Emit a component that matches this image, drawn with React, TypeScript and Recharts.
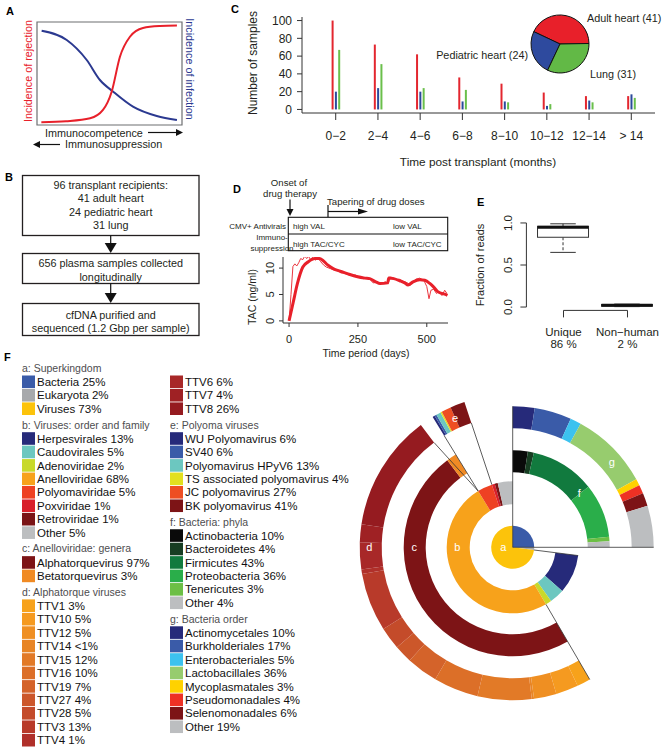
import React from 'react';
import {
  BarChart, Bar, XAxis, YAxis, PieChart, Pie, Cell, LineChart, Line,
  ComposedChart, ReferenceLine, ReferenceArea,
} from 'recharts';

const FONT = '"Liberation Sans", Arial, Helvetica, sans-serif';
const INK = '#231f20';
const AXIS = '#333333';

// ---------------- Panel A: schematic curves
const rejectionCurve = [
  { t: 3, v: 2.6 }, { t: 20, v: 3.6 }, { t: 36.6, v: 6.5 }, { t: 45.5, v: 14.6 }, { t: 51.5, v: 32.3 },
  { t: 57.2, v: 66.3 }, { t: 64.1, v: 85.7 }, { t: 73.1, v: 94.2 }, { t: 84.8, v: 96.1 }, { t: 96.5, v: 96.6 },
];
const infectionCurve = [
  { t: 3.2, v: 91.6 }, { t: 20.5, v: 82.5 }, { t: 34.3, v: 63.1 }, { t: 43.4, v: 43.7 }, { t: 52.6, v: 32.3 },
  { t: 66.2, v: 17.8 }, { t: 82.6, v: 8.7 }, { t: 96.5, v: 4.9 },
];

// ---------------- Panel B: flow chart text
const recipientLines = ['96 transplant recipients:', '41 adult heart', '24 pediatric heart', '31 lung'];
const sampleLines = ['656 plasma samples collected', 'longitudinally'];
const sequencingLines = ['cfDNA purified and', 'sequenced (1.2 Gbp per sample)'];

// ---------------- Panel C
const timeBins = ['0−2', '2−4', '4−6', '6−8', '8−10', '10−12', '12−14', '> 14'];
const adultHeartSamples = [100, 73, 62, 36, 29, 19, 15, 15];
const pediatricHeartSamples = [20, 24, 20, 9, 9, 4, 10, 17];
const lungSamples = [67, 51, 24, 22, 8, 6, 8, 13];
const sampleTicks = [0, 20, 40, 60, 80, 100];
const cohortNames = ['Adult heart', 'Pediatric heart', 'Lung'];
const cohortSizes = [41, 24, 31];

// ---------------- Panel D
const tacRawDays = [0, 7, 14, 21, 28, 35, 42, 50, 57, 64, 71, 78, 85, 95, 105, 115, 125, 135, 150, 165, 180, 195, 210, 225, 240, 255, 270, 285, 295, 305, 320, 335, 350, 360, 365, 375, 390, 400, 415, 430, 440, 450, 460, 475, 490, 500, 508, 515, 525, 535, 545, 555, 565, 573];
const tacRawValues = [0, 5, 10.3, 10.8, 10.4, 11.0, 11.8, 11.6, 12.3, 11.8, 12.2, 11.6, 12.0, 11.5, 11.9, 11.2, 10.6, 10.2, 9.9, 9.6, 9.6, 9.2, 8.8, 8.6, 8.7, 8.3, 8.0, 8.1, 7.8, 7.2, 7.3, 7.1, 7.4, 7.0, 8.3, 8.2, 7.8, 7.9, 7.5, 7.2, 6.8, 7.3, 7.9, 8.1, 7.6, 6.5, 4.2, 5.8, 6.0, 5.2, 5.6, 4.8, 5.8, 5.2];
const tacSmoothDays = [0, 15, 30, 50, 70, 94, 110, 124, 140, 160, 185, 209, 245, 275, 293, 315, 330, 358, 362, 380, 402, 420, 432, 450, 475, 493, 511, 525, 541, 555, 568, 575];
const tacSmoothValues = [0, 3.5, 7, 10.2, 11.2, 11.8, 11.8, 11.4, 10.6, 9.9, 9.4, 9.0, 8.4, 8.1, 8.0, 7.4, 7.1, 7.2, 8.1, 8.0, 7.6, 7.2, 6.8, 7.4, 7.8, 7.7, 7.1, 6.4, 5.5, 5.2, 5.0, 4.8];
const dayTicks = [0, 250, 500];
const tacTicks = [0, 5, 10];

// ---------------- Panel E
const readCategories = ['Unique', 'Non−human'];
const readPercents = ['86 %', '2 %'];
const readLow = [0.65, 0.005];
const readQ1 = [0.83, 0.01];
const readMedian = [0.95, 0.02];
const readQ3 = [0.96, 0.03];
const readHigh = [0.99, 0.035];
const fractionTicks = [0, 0.5, 1];

// ---------------- Panel F
const superkingdomNames = ['Bacteria', 'Eukaryota', 'Viruses'];
const superkingdomShares = [25, 2, 73];
const virusFamilyNames = ['Herpesvirales', 'Caudovirales', 'Adenoviridae', 'Anelloviridae', 'Polyomaviridae', 'Poxviridae', 'Retroviridae', 'Other'];
const virusFamilyShares = [13, 5, 2, 68, 5, 1, 1, 5];
const anelloGenusNames = ['Alphatorquevirus', 'Betatorquevirus'];
const anelloGenusShares = [97, 3];
const ttvNames = ['TTV1', 'TTV10', 'TTV12', 'TTV14', 'TTV15', 'TTV16', 'TTV19', 'TTV27', 'TTV28', 'TTV3', 'TTV4', 'TTV6', 'TTV7', 'TTV8'];
const ttvShares = [3, 5, 5, 0.5, 12, 10, 7, 4, 5, 13, 1, 6, 4, 26];
const polyomaNames = ['WU Polyomavirus', 'SV40', 'Polyomavirus HPyV6', 'TS associated polyomavirus', 'JC polyomavirus', 'BK polyomavirus'];
const polyomaShares = [6, 6, 13, 4, 27, 41];
const phylumNames = ['Actinobacteria', 'Bacteroidetes', 'Firmicutes', 'Proteobacteria', 'Tenericutes', 'Other'];
const phylumShares = [10, 4, 43, 36, 3, 4];
const orderNames = ['Actinomycetales', 'Burkholderiales', 'Enterobacteriales', 'Lactobacillales', 'Mycoplasmatales', 'Pseudomonadales', 'Selenomonadales', 'Other'];
const orderShares = [10, 17, 5, 36, 3, 4, 6, 19];

// ---------------- styles (colours)
const RED = '#e8202a';
const NAVY = '#2b3990';
const cohortColors = ['#e8202a', '#2e4a9e', '#62b946'];
const barColors = ['#e3262f', '#2b4a9b', '#6abf4b'];
const superkingdomColors = ['#3a5ba8', '#a7a9ac', '#fcc30b'];
const virusFamilyColors = ['#262a7a', '#6cc7c0', '#c8d92b', '#f7a21b', '#ee4123', '#d81f2a', '#7a1416', '#bcbec0'];
const anelloGenusColors = ['#7d1416', '#f08a24'];
const ttvColors = ['#f7a21b', '#f59a20', '#ef8f22', '#e88525', '#e27a27', '#dc6f28', '#d4632a', '#cc572a', '#c44b2a', '#b83a2a', '#b0302a', '#a82828', '#9f2124', '#951b20'];
const polyomaColors = ['#262a7a', '#3a5ba8', '#6cc7c0', '#e2e01f', '#ee4e23', '#7d1416'];
const phylumColors = ['#0a0a0a', '#173d22', '#117a3e', '#2aae4a', '#6cbf45', '#bcbec0'];
const orderColors = ['#262a7a', '#3a5ba8', '#3cc2ef', '#97cc6e', '#ffd200', '#ee3124', '#7d1416', '#bcbec0'];

const fmtShare = (v: number) => (v < 1 ? '<1%' : `${v}%`);

// sunburst geometry
const SB_LEFT = 350;
const SB_TOP = 390;
const SB_CX = 162.7;
const SB_CY = 157.3;

function childSpan(shares: number[], idx: number, c1: number, c2: number): [number, number] {
  const total = shares.reduce((s, v) => s + v, 0);
  const before = shares.slice(0, idx).reduce((s, v) => s + v, 0);
  return [c1 + ((c2 - c1) * before) / total, c1 + ((c2 - c1) * (before + shares[idx])) / total];
}

const bacteriaSpan = childSpan(superkingdomShares, 0, 0, 360);
const virusSpan = childSpan(superkingdomShares, 2, 0, 360);
const anelloSpan = childSpan(virusFamilyShares, 3, virusSpan[0], virusSpan[1]);
const polyomaSpan = childSpan(virusFamilyShares, 4, virusSpan[0], virusSpan[1]);
const alphaSpan = childSpan(anelloGenusShares, 0, anelloSpan[0], anelloSpan[1]);

function polar(r: number, clock: number) {
  const a = (clock * Math.PI) / 180;
  return { x: SB_LEFT + SB_CX + r * Math.sin(a), y: SB_TOP + SB_CY - r * Math.cos(a) };
}

type RingProps = {
  names: string[]; shares: number[]; colors: string[]; span: [number, number]; inner: number; outer: number; id: string;
};
function ring({ names, shares, colors, span, inner, outer, id }: RingProps) {
  const data = names.map((name, i) => ({ name, value: shares[i] }));
  return (
    <Pie
      key={id}
      data={data}
      dataKey="value"
      cx={SB_CX}
      cy={SB_CY}
      innerRadius={inner}
      outerRadius={outer}
      startAngle={90 - span[0]}
      endAngle={90 - span[1]}
      stroke="none"
      isAnimationActive={false}
    >
      {data.map((d, i) => (
        <Cell key={d.name} fill={colors[i]} stroke="none" />
      ))}
    </Pie>
  );
}

const RotatedTick = (props: any) => {
  const { x, y, payload, fmt, size } = props;
  return (
    <text x={x} y={y} transform={`rotate(-90 ${x} ${y})`} textAnchor="middle" fontSize={size} fill={INK}>
      {fmt ? fmt(payload.value) : payload.value}
    </text>
  );
};

const ReadTick = (props: any) => {
  const { x, y, payload } = props;
  const idx = Math.round(payload.value) - 1;
  return (
    <text x={x} textAnchor="middle" fontSize={11.5} fill={INK}>
      <tspan x={x} y={y + 18.6}>{readCategories[idx]}</tspan>
      <tspan x={x} y={y + 30.6}>{readPercents[idx]}</tspan>
    </text>
  );
};

const BoxShape = (props: any) => {
  const { x, y, width, height, payload } = props;
  const { low, q1, median, q3, high } = payload;
  const py = (v: number) => y + (height * (high - v)) / (high - low);
  const cx = x + width / 2;
  const cap = width * 0.5;
  return (
    <g>
      <line x1={cx} x2={cx} y1={py(high)} y2={py(q3)} stroke="#333" strokeDasharray="3 2" />
      <line x1={cx} x2={cx} y1={py(q1)} y2={py(low)} stroke="#333" strokeDasharray="3 2" />
      <line x1={cx - cap / 2} x2={cx + cap / 2} y1={py(high)} y2={py(high)} stroke="#333" />
      <line x1={cx - cap / 2} x2={cx + cap / 2} y1={py(low)} y2={py(low)} stroke="#333" />
      <rect x={x} y={py(q3)} width={width} height={Math.max(py(q1) - py(q3), 0.5)} fill="#fff" stroke="#333" />
      <line x1={x} x2={x + width} y1={py(median)} y2={py(median)} stroke="#111" strokeWidth={3} />
    </g>
  );
};

type Section = { title?: string; names: string[]; shares: number[]; colors: string[] };

function renderLegend(sections: Section[], sx: number, startY: number, key: string) {
  const out: React.ReactNode[] = [];
  let cy = startY;
  let prevItem = false;
  sections.forEach((sec, si) => {
    if (sec.title) {
      if (prevItem) cy += 2.55;
      out.push(
        <text key={`${key}h${si}`} x={sx} y={cy + 3.8} fontSize={10.5} fill="#4d4d4f">{sec.title}</text>,
      );
      cy += 13.8;
    }
    sec.names.forEach((n, i) => {
      out.push(
        <g key={`${key}${si}-${i}`}>
          <rect x={sx} y={cy - 6.3} width={13} height={12.6} fill={sec.colors[i]} />
          <text x={sx + 15} y={cy + 4.1} fontSize={11.5} fill="#111">{`${n} ${fmtShare(sec.shares[i])}`}</text>
        </g>,
      );
      cy += 13.45;
    });
    prevItem = true;
  });
  return out;
}

const Arrow = ({ x1, y1, x2, y2, head = 7, hw = 3.5 }: any) => {
  const dx = x2 - x1;
  const dy = y2 - y1;
  const len = Math.hypot(dx, dy);
  const ux = dx / len;
  const uy = dy / len;
  const bx = x2 - ux * head;
  const by = y2 - uy * head;
  return (
    <g>
      <line x1={x1} y1={y1} x2={bx + ux} y2={by + uy} stroke="#111" strokeWidth={1.2} />
      <polygon points={`${x2},${y2} ${bx - uy * hw},${by + ux * hw} ${bx + uy * hw},${by - ux * hw}`} fill="#111" />
    </g>
  );
};

export default function App() {
  const barRows = timeBins.map((bin, i) => ({
    bin, adult: adultHeartSamples[i], pediatric: pediatricHeartSamples[i], lung: lungSamples[i],
  }));
  const cohortRows = cohortNames.map((name, i) => ({ name, value: cohortSizes[i] }));

  // merge the raw and smoothed TAC series on a common day axis
  const allDays = Array.from(new Set([...tacRawDays, ...tacSmoothDays])).sort((a, b) => a - b);
  const tacRows = allDays.map((day) => {
    const ri = tacRawDays.indexOf(day);
    const si = tacSmoothDays.indexOf(day);
    return {
      day,
      raw: ri >= 0 ? tacRawValues[ri] : null,
      smooth: si >= 0 ? tacSmoothValues[si] : null,
    };
  });

  const readRows = readCategories.map((name, i) => ({
    pos: i + 1, name, range: [readLow[i], readHigh[i]],
    low: readLow[i], q1: readQ1[i], median: readMedian[i], q3: readQ3[i], high: readHigh[i],
  }));

  const col1: Section[] = [
    { title: 'a: Superkingdom', names: superkingdomNames, shares: superkingdomShares, colors: superkingdomColors },
    { title: 'b: Viruses: order and family', names: virusFamilyNames, shares: virusFamilyShares, colors: virusFamilyColors },
    { title: 'c: Anelloviridae: genera', names: anelloGenusNames, shares: anelloGenusShares, colors: anelloGenusColors },
    { title: 'd: Alphatorque viruses', names: ttvNames.slice(0, 11), shares: ttvShares.slice(0, 11), colors: ttvColors.slice(0, 11) },
  ];
  const col2: Section[] = [
    { names: ttvNames.slice(11), shares: ttvShares.slice(11), colors: ttvColors.slice(11) },
    { title: 'e: Polyoma viruses', names: polyomaNames, shares: polyomaShares, colors: polyomaColors },
    { title: 'f:  Bacteria: phyla', names: phylumNames, shares: phylumShares, colors: phylumColors },
    { title: 'g:  Bacteria order', names: orderNames, shares: orderShares, colors: orderColors },
  ];

  const sbLines: Array<[{ x: number; y: number }, { x: number; y: number }]> = [
    [polar(0, bacteriaSpan[0]), polar(141, bacteriaSpan[0])],
    [polar(0, bacteriaSpan[1]), polar(141, bacteriaSpan[1])],
    [polar(21.5, virusSpan[0]), polar(66, virusSpan[0])],
    [polar(66, anelloSpan[0]), polar(153, anelloSpan[0])],
    [polar(66, anelloSpan[1]), polar(131, alphaSpan[1])],
    [polar(66, polyomaSpan[0]), polar(131, polyomaSpan[0])],
    [polar(66, polyomaSpan[1]), polar(131, polyomaSpan[1])],
  ];

  return (
    <div style={{ position: 'absolute', left: 0, top: 0, width: 666, height: 750, background: '#fff', fontFamily: FONT, overflow: 'hidden' }}>
      {/* Panel A */}
      <div style={{ position: 'absolute', left: 36, top: 21 }}>
        <LineChart width={147} height={105} margin={{ top: 1, right: 1, bottom: 1, left: 1 }}>
          <XAxis type="number" dataKey="t" domain={[0, 100]} hide allowDataOverflow />
          <YAxis type="number" domain={[0, 100]} hide allowDataOverflow />
          <ReferenceArea x1={0} x2={100} y1={0} y2={100} fill="none" stroke="#6d6e71" strokeWidth={1.2} ifOverflow="visible" />
          <Line data={infectionCurve} dataKey="v" type="monotone" stroke={NAVY} strokeWidth={2} dot={false} isAnimationActive={false} />
          <Line data={rejectionCurve} dataKey="v" type="monotone" stroke={RED} strokeWidth={2} dot={false} isAnimationActive={false} />
        </LineChart>
      </div>

      {/* Panel C bars */}
      <div style={{ position: 'absolute', left: 230, top: 0 }}>
        <BarChart width={436} height={175} data={barRows} margin={{ top: 17, right: 11, bottom: 32, left: 0 }} barSize={2} barGap={1.3}>
          <XAxis dataKey="bin" interval={0} padding={{ left: 12.6, right: 2.6 }} height={30} tickSize={7} tickMargin={11} stroke={AXIS} tick={{ fill: INK, fontSize: 12 }} />
          <YAxis type="number" domain={[-4, 104]} ticks={sampleTicks} interval={0} width={72} tickSize={5} tickMargin={5} stroke={AXIS} tick={{ fill: INK, fontSize: 12 }} allowDataOverflow />
          <Bar dataKey="adult" fill={barColors[0]} isAnimationActive={false} />
          <Bar dataKey="pediatric" fill={barColors[1]} isAnimationActive={false} />
          <Bar dataKey="lung" fill={barColors[2]} isAnimationActive={false} />
        </BarChart>
      </div>

      {/* Panel C pie */}
      <div style={{ position: 'absolute', left: 500, top: 0 }}>
        <PieChart width={120} height={90} margin={{ top: 0, right: 0, bottom: 0, left: 0 }}>
          <Pie data={cohortRows} dataKey="value" cx={60} cy={44} innerRadius={0} outerRadius={29} startAngle={1} endAngle={361} stroke="#111" strokeWidth={1} isAnimationActive={false}>
            {cohortRows.map((d, i) => (
              <Cell key={d.name} fill={cohortColors[i]} />
            ))}
          </Pie>
        </PieChart>
      </div>

      {/* Panel D */}
      <div style={{ position: 'absolute', left: 230, top: 250 }}>
        <ComposedChart width={230} height={115} data={tacRows} margin={{ top: 7, right: 12, bottom: 17, left: 28 }}>
          <XAxis type="number" dataKey="day" domain={[-22, 577]} ticks={dayTicks} allowDataOverflow height={25} tickSize={4} tickMargin={8} stroke={AXIS} tick={{ fill: INK, fontSize: 11 }} />
          <YAxis type="number" domain={[-0.4, 12.1]} ticks={tacTicks} interval={0} allowDataOverflow width={25} tickSize={4} tickMargin={5} stroke={AXIS} tick={<RotatedTick size={11} />} />
          <Line dataKey="raw" type="linear" connectNulls stroke={RED} strokeWidth={0.9} dot={false} isAnimationActive={false} />
          <Line dataKey="smooth" type="monotone" connectNulls stroke={RED} strokeWidth={3} dot={false} isAnimationActive={false} />
        </ComposedChart>
      </div>

      {/* Panel E */}
      <div style={{ position: 'absolute', left: 470, top: 200 }}>
        <ComposedChart width={196} height={160} data={readRows} margin={{ top: 19.6, right: 1.4, bottom: 4.6, left: 0 }}>
          <XAxis type="number" dataKey="pos" domain={[0.42, 2.58]} ticks={[1, 2]} allowDataOverflow height={45} axisLine={false} tickSize={7} tickMargin={0} stroke={AXIS} tick={<ReadTick />} />
          <YAxis type="number" domain={[-0.04, 1.04]} ticks={fractionTicks} interval={0} allowDataOverflow width={56.4} axisLine={false} tickSize={6} tickMargin={8} stroke={AXIS} tick={<RotatedTick size={11.5} fmt={(v: number) => v.toFixed(1)} />} />
          <ReferenceLine segment={[{ x: 0.42, y: 0 }, { x: 0.42, y: 1 }]} stroke={AXIS} ifOverflow="visible" />
          <ReferenceLine segment={[{ x: 1, y: -0.04 }, { x: 2, y: -0.04 }]} stroke={AXIS} ifOverflow="visible" />
          <Bar dataKey="range" barSize={51} fill="none" shape={<BoxShape />} isAnimationActive={false} />
        </ComposedChart>
      </div>

      {/* Panel F sunburst */}
      <div style={{ position: 'absolute', left: SB_LEFT, top: SB_TOP }}>
        <PieChart width={316} height={320} margin={{ top: 0, right: 0, bottom: 0, left: 0 }}>
          {ring({ names: superkingdomNames, shares: superkingdomShares, colors: superkingdomColors, span: [0, 360], inner: 0, outer: 21.5, id: 'a' })}
          {ring({ names: virusFamilyNames, shares: virusFamilyShares, colors: virusFamilyColors, span: virusSpan, inner: 43, outer: 66, id: 'b' })}
          {ring({ names: anelloGenusNames, shares: anelloGenusShares, colors: anelloGenusColors, span: anelloSpan, inner: 87, outer: 109, id: 'c' })}
          {ring({ names: ttvNames, shares: ttvShares, colors: ttvColors, span: alphaSpan, inner: 131, outer: 153, id: 'd' })}
          {ring({ names: polyomaNames, shares: polyomaShares, colors: polyomaColors, span: polyomaSpan, inner: 131, outer: 153, id: 'e' })}
          {ring({ names: phylumNames, shares: phylumShares, colors: phylumColors, span: bacteriaSpan, inner: 75, outer: 97, id: 'f' })}
          {ring({ names: orderNames, shares: orderShares, colors: orderColors, span: bacteriaSpan, inner: 119, outer: 141, id: 'g' })}
        </PieChart>
      </div>

      {/* Annotation overlay */}
      <svg width={666} height={750} style={{ position: 'absolute', left: 0, top: 0, pointerEvents: 'none' }} fontFamily={FONT}>
        <g fontWeight="bold" fontSize={11} fill="#000">
          <text x={6} y={14.5}>A</text>
          <text x={5} y={181}>B</text>
          <text x={231} y={12.5}>C</text>
          <text x={233} y={192.5}>D</text>
          <text x={477} y={205.5}>E</text>
          <text x={4} y={360.5}>F</text>
        </g>

        {/* A labels */}
        <text x={32} y={71} transform="rotate(-90 32 71)" textAnchor="middle" fontSize={10.8} fill={RED}>Incidence of rejection</text>
        <text x={186} y={69} transform="rotate(90 186 69)" textAnchor="middle" fontSize={10.8} fill={NAVY}>Incidence of infection</text>
        <text x={45} y={136.5} fontSize={10.8} fill={INK}>Immunocompetence</text>
        <Arrow x1={148} y1={132.5} x2={183} y2={132.5} />
        <text x={65} y={148} fontSize={10.8} fill={INK}>Immunosuppression</text>
        <Arrow x1={60} y1={144.5} x2={33} y2={144.5} />

        {/* B flow chart */}
        <g fill="none" stroke={INK} strokeWidth={1.3}>
          <rect x={22.5} y={175.5} width={176.5} height={60} />
          <rect x={22.5} y={253.5} width={176.5} height={30} />
          <rect x={22.5} y={303.5} width={176.5} height={32} />
        </g>
        <Arrow x1={110.7} y1={235.5} x2={110.7} y2={253} head={10} hw={6} />
        <Arrow x1={110.7} y1={283.5} x2={110.7} y2={303} head={10} hw={6} />
        <g fontSize={10.8} fill={INK} textAnchor="middle">
          {recipientLines.map((l, i) => (
            <text key={l} x={110.7} y={189 + i * 13.4}>{l}</text>
          ))}
          {sampleLines.map((l, i) => (
            <text key={l} x={110.7} y={266.7 + i * 14}>{l}</text>
          ))}
          {sequencingLines.map((l, i) => (
            <text key={l} x={110.7} y={319 + i * 13.3}>{l}</text>
          ))}
        </g>

        {/* C titles and pie labels */}
        <text x={257} y={63} transform="rotate(-90 257 63)" textAnchor="middle" fontSize={12} fill={INK}>Number of samples</text>
        <text x={478} y={166} textAnchor="middle" fontSize={11.8} fill={INK}>Time post transplant (months)</text>
        <g fontSize={10.8} fill={INK}>
          <text x={587} y={22}>{`${cohortNames[0]} (${cohortSizes[0]})`}</text>
          <text x={528} y={59} textAnchor="end">{`${cohortNames[1]} (${cohortSizes[1]})`}</text>
          <text x={590} y={78}>{`${cohortNames[2]} (${cohortSizes[2]})`}</text>
        </g>

        {/* D annotations */}
        <g fontSize={9.6} fill={INK}>
          <text x={289} y={186} textAnchor="middle">Onset of</text>
          <text x={290} y={196.5} textAnchor="middle">drug therapy</text>
          <text x={327} y={205}>Tapering of drug doses</text>
        </g>
        <Arrow x1={290} y1={199.5} x2={290} y2={216} head={7} hw={3.5} />
        <line x1={328} y1={205} x2={328} y2={217} stroke="#111" strokeWidth={1.2} />
        <Arrow x1={328} y1={211.5} x2={368} y2={211.5} head={10} hw={3} />
        <g fill="none" stroke="#111" strokeWidth={1.1}>
          <rect x={288.3} y={217.3} width={159.4} height={33.4} />
          <line x1={288.3} x2={447.7} y1={234} y2={234} />
        </g>
        <g fontSize={8} fill={INK}>
          <text x={286} y={228.5} textAnchor="end">CMV+ Antivirals</text>
          <text x={272} y={240} textAnchor="middle">Immuno-</text>
          <text x={272} y={251} textAnchor="middle">suppression</text>
          <text x={293} y={228.5}>high VAL</text>
          <text x={393} y={228.5}>low VAL</text>
          <text x={293} y={246.5}>high TAC/CYC</text>
          <text x={393} y={246.5}>low TAC/CYC</text>
        </g>
        <text x={256} y={297} transform="rotate(-90 256 297)" textAnchor="middle" fontSize={10.5} fill={INK}>TAC (ng/ml)</text>
        <text x={366} y={357} textAnchor="middle" fontSize={10.5} fill={INK}>Time period (days)</text>

        {/* E title */}
        <text x={484} y={265} transform="rotate(-90 484 265)" textAnchor="middle" fontSize={11} fill={INK}>Fraction of reads</text>

        {/* F legend */}
        {renderLegend(col1, 22, 368, 'c1')}
        {renderLegend(col2, 170, 381.8, 'c2')}

        {/* sunburst connector lines */}
        {sbLines.map(([p, q], i) => (
          <line key={i} x1={p.x} y1={p.y} x2={q.x} y2={q.y} stroke="#333" strokeWidth={0.8} />
        ))}
        <g fontSize={11} fill="#fff" textAnchor="middle">
          <text x={503.3} y={551.3}>a</text>
          <text x={457.3} y={551.3}>b</text>
          <text x={414.3} y={551.3}>c</text>
          <text x={369.3} y={550.7}>d</text>
          <text x={455} y={422.3}>e</text>
          <text x={579.3} y={496.7}>f</text>
          <text x={611.7} y={465.7}>g</text>
        </g>
      </svg>
    </div>
  );
}
